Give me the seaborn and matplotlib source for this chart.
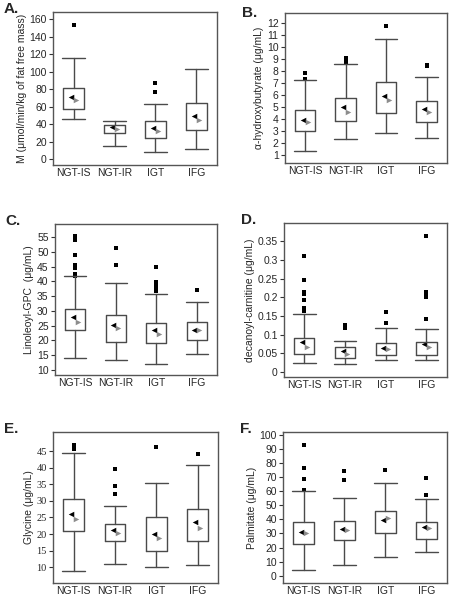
import numpy as np
import pandas as pd
import seaborn as sns
import matplotlib.pyplot as plt

groups = ['NGT-IS', 'NGT-IR', 'IGT', 'IFG']

# panel A: M value
a_q1 = [58, 29.7, 24.7, 33.8]
a_q3 = [81.7, 39.5, 44, 63.9]
a_lo = [45.6, 15.2, 8, 11.8]
a_hi = [116, 44, 62.7, 103]
a_mean = [70.7, 36.5, 36, 49.4]
a_med = [67.7, 35, 32.3, 44.9]
a_out = [[153.6], [], [86.7, 76.4], []]

# panel B: alpha-hydroxybutyrate
b_q1 = [3.02, 3.80, 4.46, 3.77]
b_q3 = [4.74, 5.71, 7.09, 5.52]
b_lo = [1.30, 2.30, 2.80, 2.39]
b_hi = [7.23, 8.53, 10.6, 7.45]
b_mean = [3.91, 5.02, 5.93, 4.82]
b_med = [3.71, 4.6, 5.57, 4.55]
b_out = [[7.84, 7.34], [9.03, 8.85, 8.7], [11.75], [8.5, 8.35]]

# panel C: Linoleoyl-GPC
c_q1 = [23.6, 19.4, 19.0, 20.0]
c_q3 = [30.7, 28.5, 25.9, 26.2]
c_lo = [14.0, 13.4, 12.0, 15.4]
c_hi = [41.7, 39.4, 35.7, 33.0]
c_mean = [27.8, 25.1, 23.6, 23.6]
c_med = [26.4, 24.2, 22.2, 23.4]
c_out = [[55.3, 54.5, 54, 49.1, 45.5, 44.4, 42.5, 42], [51.4, 45.5],
         [44.9, 39.8, 38.5, 37.5, 36.7], [37.0]]

# panel D: decanoyl-carnitine
d_q1 = [0.0476, 0.0386, 0.0449, 0.0449]
d_q3 = [0.0916, 0.067, 0.0763, 0.0808]
d_lo = [0.025, 0.0224, 0.0314, 0.0314]
d_hi = [0.155, 0.0835, 0.119, 0.116]
d_mean = [0.079, 0.0557, 0.0646, 0.0745]
d_med = [0.066, 0.0476, 0.061, 0.0655]
d_out = [[0.311, 0.247, 0.215, 0.208, 0.193, 0.171, 0.162], [0.126, 0.118],
         [0.16, 0.13], [0.365, 0.214, 0.206, 0.202, 0.142]]

# panel E: Glycine
e_q1 = [21.0, 17.9, 14.9, 17.9]
e_q3 = [30.5, 22.9, 25.0, 27.7]
e_lo = [8.9, 11.0, 9.9, 10.7]
e_hi = [44.6, 28.5, 35.3, 40.8]
e_mean = [26.0, 21.2, 20.1, 23.6]
e_med = [24.4, 20.2, 18.9, 21.9]
e_out = [[47.0, 46.3, 45.6], [39.6, 34.5, 32.2], [46.3], [44.1]]

# panel F: Palmitate
f_q1 = [22.4, 25.4, 30.6, 26.1]
f_q3 = [37.9, 39.1, 45.9, 38.1]
f_lo = [4.2, 7.3, 13.6, 16.5]
f_hi = [60, 55.3, 66.1, 54.4]
f_mean = [31.3, 33.2, 39.5, 34.4]
f_med = [30.1, 32.5, 40.7, 33.9]
f_out = [[92.5, 76.7, 68.9, 60.7], [74.1, 68.2], [75.3], [69.2, 57.2]]

sns.set_style('white')
plt.rcParams['font.family'] = ['Liberation Sans', 'DejaVu Sans']

fig = plt.figure(figsize=(4.5, 5.98), dpi=100)

panels = [
    ('A.', [0.118, 0.724, 0.364, 0.256], a_q1, a_q3, a_lo, a_hi, a_mean, a_med, a_out,
     'M (\u03bcmol/min/kg of fat free mass)', (-6.5, 168.4), np.arange(0, 161, 20), None),
    ('B.', [0.633, 0.727, 0.36, 0.251], b_q1, b_q3, b_lo, b_hi, b_mean, b_med, b_out,
     '\u03b1-hydroxybutyrate (\u03bcg/mL)', (0.31, 12.78), np.arange(1, 13, 1), None),
    ('C.', [0.122, 0.373, 0.36, 0.2525], c_q1, c_q3, c_lo, c_hi, c_mean, c_med, c_out,
     'Linoleoyl-GPC  (\u03bcg/mL)', (8.3, 59.5), np.arange(10, 56, 5), None),
    ('D.', [0.631, 0.3696, 0.362, 0.2575], d_q1, d_q3, d_lo, d_hi, d_mean, d_med, d_out,
     'decanoyl-carnitine (\u03bcg/mL)', (-0.0135, 0.399), [0, 0.05, 0.1, 0.15, 0.2, 0.25, 0.3, 0.35],
     ['0', '0.05', '0.1', '0.15', '0.2', '0.25', '0.3', '0.35']),
    ('E.', [0.118, 0.025, 0.367, 0.2525], e_q1, e_q3, e_lo, e_hi, e_mean, e_med, e_out,
     'Glycine (\u03bcg/mL)', (5.2, 50.8), np.arange(10, 46, 5), None),
    ('F.', [0.629, 0.025, 0.364, 0.2525], f_q1, f_q3, f_lo, f_hi, f_mean, f_med, f_out,
     'Palmitate (\u03bcg/mL)', (-5.2, 101.9), np.arange(0, 101, 10), None),
]

line_col = '#4a4a4a'
for (letter, rect, q1, q3, lo, hi, mean, med, out, ylab, ylim, yt, ytl) in panels:
    ax = fig.add_axes(rect)
    stats = []
    for i in range(len(groups)):
        stats.append(dict(q1=q1[i], q3=q3[i], med=med[i], whislo=lo[i], whishi=hi[i],
                          fliers=[], label=groups[i]))
    ax.bxp(stats, positions=range(len(groups)), widths=0.5, capwidths=0.55,
           showfliers=False, patch_artist=False,
           boxprops=dict(color=line_col, lw=1),
           whiskerprops=dict(color=line_col, lw=1),
           capprops=dict(color=line_col, lw=1),
           medianprops=dict(visible=False))
    # outliers, means (black) and medians (grey)
    ox, oy = [], []
    for i, vals in enumerate(out):
        ox += [i] * len(vals)
        oy += vals
    odf = pd.DataFrame({'x': ox, 'y': oy})
    sns.scatterplot(data=odf, x='x', y='y', marker='s', color='black', s=11,
                    linewidth=0, ax=ax)
    mdf = pd.DataFrame({'x': np.arange(len(groups)) - 0.06, 'y': mean})
    sns.scatterplot(data=mdf, x='x', y='y', marker='<', color='black', s=16,
                    linewidth=0, ax=ax)
    ddf = pd.DataFrame({'x': np.arange(len(groups)) + 0.06, 'y': med})
    sns.scatterplot(data=ddf, x='x', y='y', marker='>', color='#8c8c8c', s=16,
                    linewidth=0, ax=ax)
    ax.set_xlim(-0.5, 3.5)
    ax.set_ylim(*ylim)
    ax.set_xticks(range(len(groups)))
    ax.set_xticklabels(groups, fontsize=7.5)
    ax.set_yticks(yt)
    if ytl is not None:
        ax.set_yticklabels(ytl)
    ax.tick_params(axis='y', labelsize=7.5, length=3, width=0.8, color='#333333', pad=1.5,
                   left=True)
    ax.tick_params(axis='x', length=0, pad=2)
    if letter == 'E.':
        for t in ax.get_yticklabels():
            t.set_family('Liberation Serif')
    ax.set_xlabel('')
    ax.set_ylabel(ylab, fontsize=7.5, labelpad=2)
    for s in ax.spines.values():
        s.set_color('#555555')
        s.set_linewidth(1)
    x0 = rect[0] - (0.11 if rect[0] < 0.5 else 0.095)
    y0 = rect[1] + rect[3] + (0.0 if letter in 'AB.' else 0.005)
    fig.text(x0, y0, letter, fontsize=11, fontweight='bold', ha='left', va='center')

fig.savefig('out.png', dpi=100)
